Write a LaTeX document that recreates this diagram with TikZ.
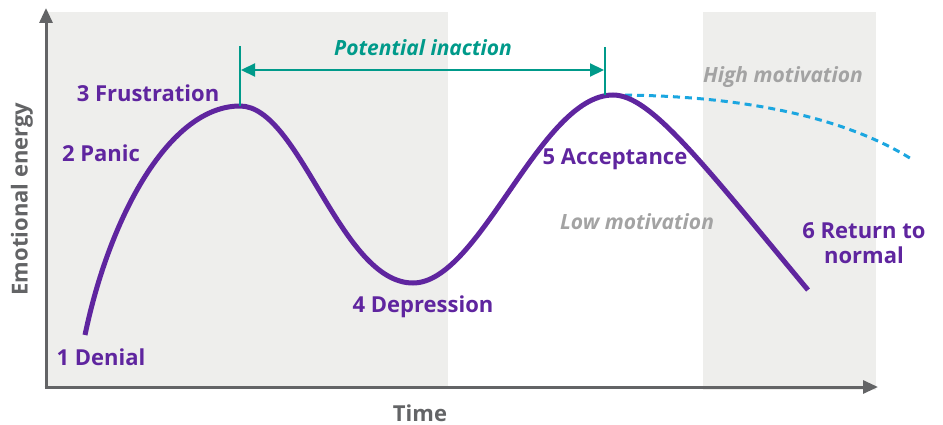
\documentclass[tikz,border=0pt]{standalone}
\usepackage{fontspec}
\setmainfont{Open Sans}
\usetikzlibrary{arrows.meta}
\definecolor{panel}{HTML}{EEEEEC}
\definecolor{axisgray}{HTML}{636466}
\definecolor{curvepurple}{HTML}{5F259F}
\definecolor{teal}{HTML}{009A8A}
\definecolor{skyblue}{HTML}{1BA6E0}
\definecolor{softgray}{HTML}{A3A3A3}
\begin{document}
\begin{tikzpicture}[x=1pt,y=-1pt,
  axis/.style={draw=axisgray,line width=3pt,-{Triangle[length=15pt,width=13pt]}},
  stage/.style={font=\fontsize{22}{25}\selectfont\bfseries,text=curvepurple,inner sep=0pt,align=center},
  note/.style={font=\fontsize{21}{24}\selectfont\bfseries\itshape,text=softgray,inner sep=0pt},
  axlabel/.style={font=\fontsize{22}{25}\selectfont\bfseries,text=axisgray,inner sep=0pt},
  bracket/.style={draw=teal,line width=2.2pt},
  span/.style={draw=teal,line width=2.2pt,{Triangle[length=14pt,width=13pt]}-{Triangle[length=14pt,width=13pt]}}]
\useasboundingbox (0,0) rectangle (943,425);

% shaded phases
\fill[panel] (48,12) rectangle (448,387);
\fill[panel] (703,12) rectangle (876,390);

% axes
\coordinate (origin) at (46,387);
\coordinate (ytop) at (46,8);
\coordinate (xend) at (878,387);
\draw[axis] (origin) -- (ytop);
\draw[axis] ([xshift=-1.5pt]origin) -- (xend);

% curve key points
\coordinate (p1) at (85,335);
\coordinate (p3) at (240,106);
\coordinate (p4) at (413,283);
\coordinate (p5) at (613,95);
\coordinate (p6) at (808,290);
\coordinate (hi) at (913,160);

% high-motivation path
\draw[skyblue,line width=3pt,dash pattern=on 7pt off 5pt]
  (p5) .. controls (750,95) and (850,120) .. (hi);

% emotional curve
\draw[curvepurple,line width=5pt]
  (p1) .. controls (110,215) and (170,106) .. (p3)
       .. controls (300,106) and (340,283) .. (p4)
       .. controls (480,283) and (540,95) .. (p5)
       .. controls (650,95) and (700,160) .. (p6);

% potential inaction span
\coordinate (t1top) at (240,46);
\coordinate (t2top) at (605,47);
\coordinate (t2bot) at (605,95);
\draw[bracket] (t1top) -- (p3);
\draw[bracket] (t2top) -- (t2bot);
\coordinate (a1) at (241,70);
\coordinate (a2) at (604,70);
\draw[span] (a1) -- (a2);
\node[font=\fontsize{21}{24}\selectfont\bfseries\itshape,text=teal,inner sep=0pt] (inaction) at (423,48) {Potential inaction};

% stage labels
\node[stage] (s1) at (101,357) {1 Denial};
\node[stage] (s2) at (101,153) {2 Panic};
\node[stage] (s3) at (148,93) {3 Frustration};
\node[stage] (s4) at (423,307) {4 Depression};
\node[stage] (s5) at (615,159) {5 Acceptance};
\node[stage] (s6) at (864,243) {6 Return to\\normal};

% motivation notes
\node[note] (low) at (637,222) {Low motivation};
\node[note] (high) at (783,77) {High motivation};

% axis labels
\node[axlabel] (time) at (420,413) {Time};
\node[axlabel,rotate=90] (energy) at (22,199) {Emotional energy};
\end{tikzpicture}
\end{document}
